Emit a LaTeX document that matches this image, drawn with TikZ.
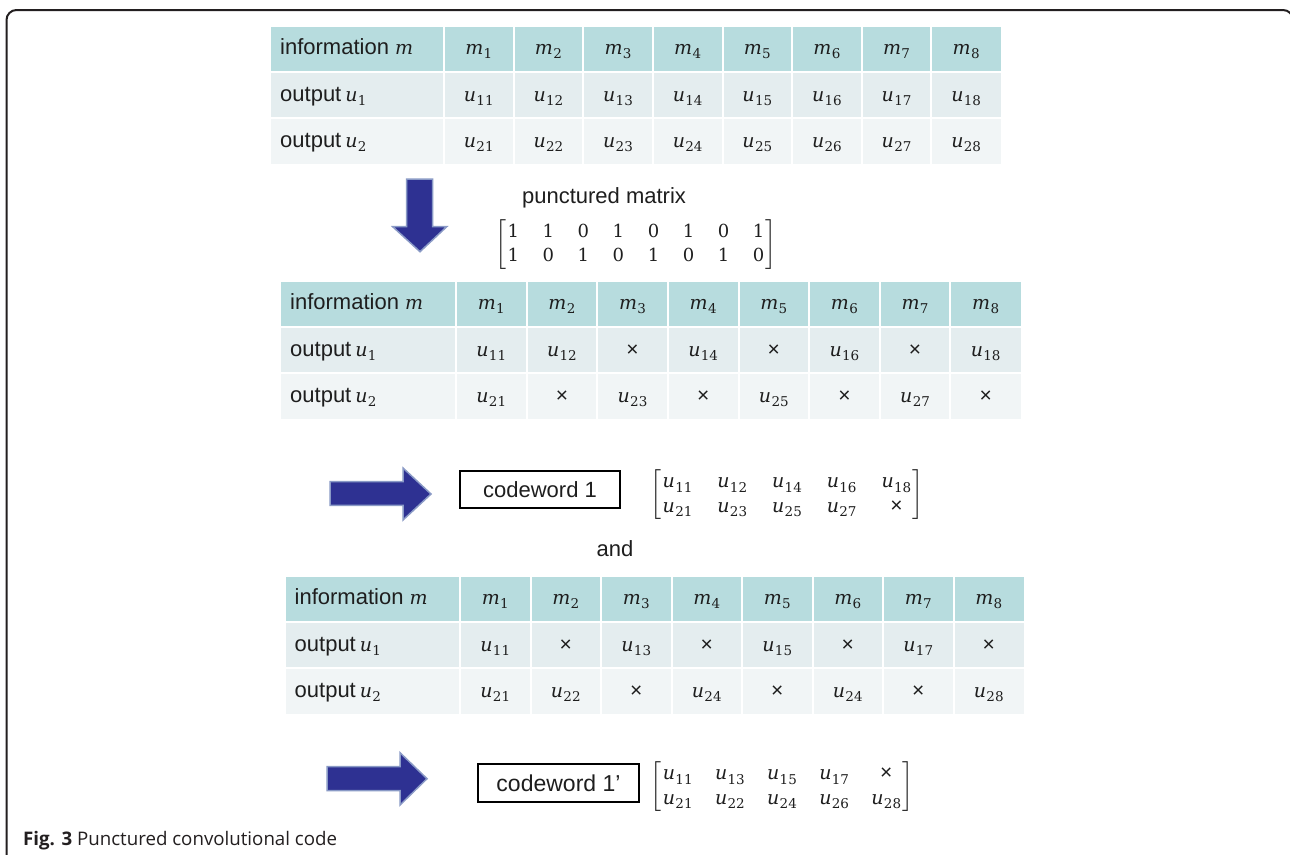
\RequirePackage{fix-cm}
\documentclass[tikz,border=0pt]{standalone}
\usepackage{amsmath}
\usepackage[no-math]{fontspec}
\setmainfont{Liberation Sans}
\newfontfamily\capfont{Open Sans}
\newfontfamily\varfont{DejaVu Serif}

\definecolor{headc}{HTML}{B7DCDE}
\definecolor{rowa}{HTML}{E4EDEF}
\definecolor{rowb}{HTML}{F1F5F6}
\definecolor{ink}{HTML}{1E1E1E}
\definecolor{arrowblue}{HTML}{2E3192}
\definecolor{arrowedge}{HTML}{8A9AC6}
\definecolor{framec}{HTML}{231F20}

\newcommand\xmark{\mbox{\fontsize{21}{24}\selectfont ×}}
% italic variable with an optional upright subscript
\newcommand\vv[2]{\mbox{\fontsize{19}{23}\selectfont\varfont\itshape #1\kern0.3pt\raisebox{-4.5pt}{\fontsize{13.5}{14}\selectfont\upshape #2}}}

\tikzset{
  lab/.style={font=\fontsize{22}{26}\selectfont, text=ink, inner sep=0pt, anchor=base west},
  cell/.style={font=\fontsize{22}{26}\selectfont, text=ink, inner sep=0pt, anchor=base},
  mat/.style={font=\fontsize{22}{24.5}\selectfont, text=ink, inner sep=0pt},
  cwbox/.style={draw=black, line width=2pt, inner sep=0pt, font=\fontsize{22}{26}\selectfont, text=ink},
  plain/.style={font=\fontsize{22}{26}\selectfont, text=ink, inner sep=0pt},
  blockarrow/.style={fill=arrowblue, draw=arrowedge, line width=1.5pt, line join=miter},
  gridline/.style={white, line width=2pt},
}

% #1 name, #2 left edge, #3 first data column edge, #4 right edge, #5 top edge,
% #6 entries of the u1 row, #7 entries of the u2 row
\newcommand\ptable[7]{%
  \pgfmathsetmacro\cw{(#4-#3)/8}
  \fill[headc] (#2,#5) rectangle (#4,#5+44);
  \fill[rowa] (#2,#5+46) rectangle (#4,#5+90);
  \fill[rowb] (#2,#5+92) rectangle (#4,#5+137);
  \foreach \k in {0,...,7} \draw[gridline] ({#3+\k*\cw},#5) -- ++(0,137);
  \node[lab] (#1-h0) at (#2+9,#5+27) {information \vv{m}{}};
  \node[lab] (#1-a0) at (#2+9,#5+74) {output\hspace{4pt}\vv{u}{1}};
  \node[lab] (#1-b0) at (#2+9,#5+120) {output\hspace{4pt}\vv{u}{2}};
  \foreach \i in {1,...,8} \node[cell] (#1-h\i) at ({#3+(\i-0.5)*\cw},#5+27) {\vv{m}{\i}};
  \foreach \t [count=\i] in {#6} \node[cell] (#1-a\i) at ({#3+(\i-0.5)*\cw},#5+74) {\t};
  \foreach \t [count=\i] in {#7} \node[cell] (#1-b\i) at ({#3+(\i-0.5)*\cw},#5+120) {\t};
}

\begin{document}
\begin{tikzpicture}[x=1pt, y=-1pt]
\useasboundingbox (0,0) rectangle (1290,854);
\fill[white] (0,0) rectangle (1290,854);
\clip (0,0) rectangle (1290,854);

% outer frame
\draw[framec, line width=2pt, rounded corners=10pt] (6.5,870) -- (6.5,10) -- (1293,10) -- (1293,870);

% full output table
\ptable{t1}{271}{444}{1001}{27}
  {\vv{u}{11},\vv{u}{12},\vv{u}{13},\vv{u}{14},\vv{u}{15},\vv{u}{16},\vv{u}{17},\vv{u}{18}}
  {\vv{u}{21},\vv{u}{22},\vv{u}{23},\vv{u}{24},\vv{u}{25},\vv{u}{26},\vv{u}{27},\vv{u}{28}}

% puncturing step
\draw[blockarrow] (406.7,179) -- (432.7,179) -- (432.7,226.7) -- (446.7,226.7)
  -- (420,251.7) -- (392.7,226.7) -- (406.7,226.7) -- cycle;
\node[plain] (pmlabel) at (604,198) {punctured matrix};
\node[mat] (pm) at (636,245)
  {$\left[\vcenter{\hbox{\fontsize{18}{23.5}\selectfont\varfont\setlength\tabcolsep{11.8pt}%
   \begin{tabular}{@{\hspace{1pt}}*{8}{c}@{\hspace{1pt}}}
   1&1&0&1&0&1&0&1\\ 1&0&1&0&1&0&1&0\end{tabular}}}\right]$};

% first punctured table
\ptable{t2}{281}{456}{1021}{282}
  {\vv{u}{11},\vv{u}{12},\xmark,\vv{u}{14},\xmark,\vv{u}{16},\xmark,\vv{u}{18}}
  {\vv{u}{21},\xmark,\vv{u}{23},\xmark,\vv{u}{25},\xmark,\vv{u}{27},\xmark}

% codeword 1
\draw[blockarrow] (330,481.7) -- (403,481.7) -- (403,468) -- (431,494)
  -- (403,520) -- (403,505.3) -- (330,505.3) -- cycle;
\node[cwbox, minimum width=160pt, minimum height=37.6pt] (cw1) at (540,489.5) {codeword 1};
\node[mat] (cm1) at (787,495)
  {$\setlength\arraycolsep{12.5pt}\left[\begin{array}{@{\hspace{1pt}}ccccc@{\hspace{1pt}}}
   \vv{u}{11}&\vv{u}{12}&\vv{u}{14}&\vv{u}{16}&\vv{u}{18}\\
   \vv{u}{21}&\vv{u}{23}&\vv{u}{25}&\vv{u}{27}&\xmark\end{array}\right]$};

\node[plain] (and) at (615,549) {and};

% second punctured table
\ptable{t3}{285.5}{460}{1024}{577}
  {\vv{u}{11},\xmark,\vv{u}{13},\xmark,\vv{u}{15},\xmark,\vv{u}{17},\xmark}
  {\vv{u}{21},\vv{u}{22},\xmark,\vv{u}{24},\xmark,\vv{u}{24},\xmark,\vv{u}{28}}

% codeword 1'
\draw[blockarrow] (327,766.7) -- (400,766.7) -- (400,752.7) -- (427,778.7)
  -- (400,805) -- (400,790.7) -- (327,790.7) -- cycle;
\node[cwbox, minimum width=161pt, minimum height=37.7pt, font=\fontsize{23}{27}\selectfont]
  (cw2) at (558.5,782.9) {codeword 1’};
\node[mat] (cm2) at (782,787)
  {$\setlength\arraycolsep{11.2pt}\left[\begin{array}{@{\hspace{1pt}}ccccc@{\hspace{1pt}}}
   \vv{u}{11}&\vv{u}{13}&\vv{u}{15}&\vv{u}{17}&\xmark\\
   \vv{u}{21}&\vv{u}{22}&\vv{u}{24}&\vv{u}{26}&\vv{u}{28}\end{array}\right]$};

% caption
\node[anchor=base west, inner sep=0pt, text=framec, font=\capfont\fontsize{18.7}{22}\selectfont]
  (caption) at (23,845) {\textbf{Fig. 3} Punctured convolutional code};
\end{tikzpicture}
\end{document}
